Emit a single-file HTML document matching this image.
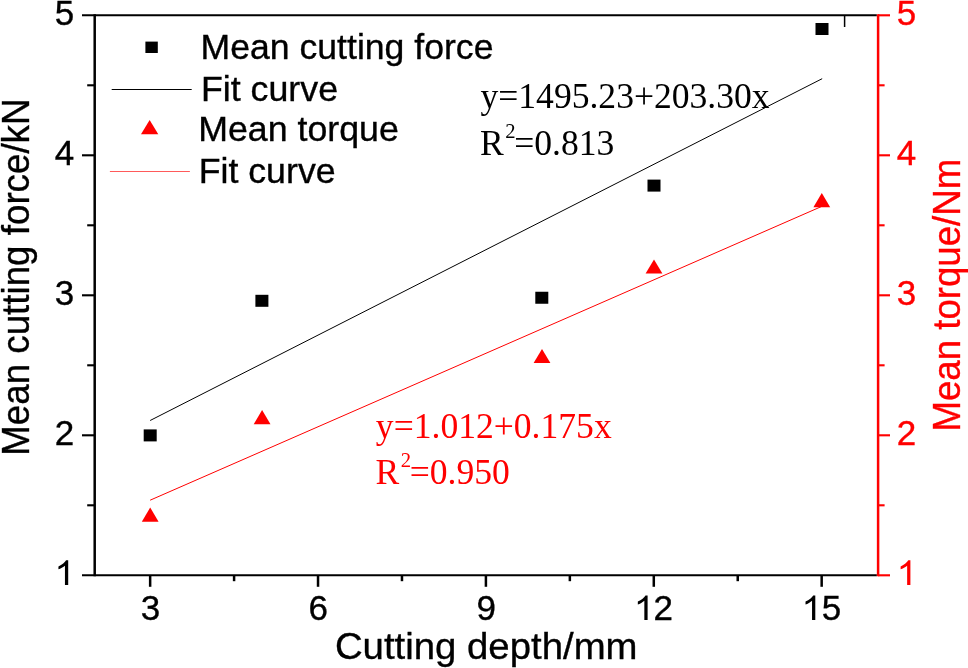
<!DOCTYPE html>
<html><head><meta charset="utf-8"><title>chart</title>
<style>html,body{margin:0;padding:0;background:#fff;}svg{display:block;will-change:transform;filter:opacity(1);}</style></head>
<body><svg width="968" height="668" viewBox="0 0 968 668">
<rect width="968" height="668" fill="#ffffff"/>
<line x1="94.70" y1="14.25" x2="94.70" y2="576.35" stroke="#000000" stroke-width="2.5"/>
<line x1="82.00" y1="575.30" x2="876.85" y2="575.30" stroke="#000000" stroke-width="2.1"/>
<line x1="82.00" y1="15.30" x2="876.85" y2="15.30" stroke="#000000" stroke-width="2.1"/>
<line x1="82.00" y1="435.30" x2="94.70" y2="435.30" stroke="#000000" stroke-width="2.1"/>
<line x1="82.00" y1="295.30" x2="94.70" y2="295.30" stroke="#000000" stroke-width="2.1"/>
<line x1="82.00" y1="155.30" x2="94.70" y2="155.30" stroke="#000000" stroke-width="2.1"/>
<line x1="87.20" y1="505.30" x2="94.70" y2="505.30" stroke="#000000" stroke-width="2.1"/>
<line x1="87.20" y1="365.30" x2="94.70" y2="365.30" stroke="#000000" stroke-width="2.1"/>
<line x1="87.20" y1="225.30" x2="94.70" y2="225.30" stroke="#000000" stroke-width="2.1"/>
<line x1="87.20" y1="85.30" x2="94.70" y2="85.30" stroke="#000000" stroke-width="2.1"/>
<line x1="150.15" y1="575.30" x2="150.15" y2="586.80" stroke="#000000" stroke-width="2.5"/>
<line x1="318.03" y1="575.30" x2="318.03" y2="586.80" stroke="#000000" stroke-width="2.5"/>
<line x1="485.91" y1="575.30" x2="485.91" y2="586.80" stroke="#000000" stroke-width="2.5"/>
<line x1="653.79" y1="575.30" x2="653.79" y2="586.80" stroke="#000000" stroke-width="2.5"/>
<line x1="821.67" y1="575.30" x2="821.67" y2="586.80" stroke="#000000" stroke-width="2.5"/>
<line x1="234.09" y1="575.30" x2="234.09" y2="581.20" stroke="#000000" stroke-width="2.5"/>
<line x1="401.97" y1="575.30" x2="401.97" y2="581.20" stroke="#000000" stroke-width="2.5"/>
<line x1="569.85" y1="575.30" x2="569.85" y2="581.20" stroke="#000000" stroke-width="2.5"/>
<line x1="737.73" y1="575.30" x2="737.73" y2="581.20" stroke="#000000" stroke-width="2.5"/>
<line x1="844.60" y1="15.30" x2="844.60" y2="27.00" stroke="#000000" stroke-width="1.5"/>
<line x1="878.10" y1="14.25" x2="878.10" y2="576.35" stroke="#ff0000" stroke-width="2.5"/>
<line x1="878.10" y1="575.30" x2="890.00" y2="575.30" stroke="#ff0000" stroke-width="2.1"/>
<line x1="878.10" y1="435.30" x2="890.00" y2="435.30" stroke="#ff0000" stroke-width="2.1"/>
<line x1="878.10" y1="295.30" x2="890.00" y2="295.30" stroke="#ff0000" stroke-width="2.1"/>
<line x1="878.10" y1="155.30" x2="890.00" y2="155.30" stroke="#ff0000" stroke-width="2.1"/>
<line x1="878.10" y1="15.30" x2="890.00" y2="15.30" stroke="#ff0000" stroke-width="2.1"/>
<line x1="878.10" y1="505.30" x2="884.60" y2="505.30" stroke="#ff0000" stroke-width="2.1"/>
<line x1="878.10" y1="365.30" x2="884.60" y2="365.30" stroke="#ff0000" stroke-width="2.1"/>
<line x1="878.10" y1="225.30" x2="884.60" y2="225.30" stroke="#ff0000" stroke-width="2.1"/>
<line x1="878.10" y1="85.30" x2="884.60" y2="85.30" stroke="#ff0000" stroke-width="2.1"/>
<line x1="150.15" y1="420.5" x2="822.17" y2="78.7" stroke="#000000" stroke-width="1"/>
<line x1="150.15" y1="500.2" x2="821.97" y2="206.3" stroke="#ff0000" stroke-width="1"/>
<line x1="111.7" y1="89.5" x2="191.7" y2="89.5" stroke="#000000" stroke-width="1"/>
<line x1="109.9" y1="171.5" x2="189.9" y2="171.5" stroke="#ff0000" stroke-width="0.65"/>
<rect x="143.70" y="429.40" width="13.0" height="12.0" fill="#000000"/>
<rect x="255.40" y="294.80" width="13.0" height="12.0" fill="#000000"/>
<rect x="535.30" y="291.75" width="13.0" height="12.0" fill="#000000"/>
<rect x="647.50" y="179.60" width="13.0" height="12.0" fill="#000000"/>
<rect x="815.50" y="23.00" width="13.0" height="12.0" fill="#000000"/>
<polygon points="150.20,507.50 158.60,521.70 141.80,521.70" fill="#ff0000"/>
<polygon points="262.10,410.00 270.50,424.20 253.70,424.20" fill="#ff0000"/>
<polygon points="542.00,348.90 550.40,363.10 533.60,363.10" fill="#ff0000"/>
<polygon points="654.00,259.40 662.40,273.60 645.60,273.60" fill="#ff0000"/>
<polygon points="821.80,193.00 830.20,207.20 813.40,207.20" fill="#ff0000"/>
<rect x="145.4" y="41.6" width="12.4" height="11.4" fill="#000000"/>
<polygon points="149.65,119.9 158.3,134.3 141.0,134.3" fill="#ff0000"/>
<text transform="translate(200.56,58.80) scale(1.0147,1)" font-family="Liberation Sans" font-size="35.10" fill="#000000" stroke="#000000" stroke-width="0.35">Mean cutting force</text>
<text transform="translate(200.95,100.80) scale(1.0190,1)" font-family="Liberation Sans" font-size="35.10" fill="#000000" stroke="#000000" stroke-width="0.35">Fit curve</text>
<text transform="translate(198.20,141.00) scale(1.0179,1)" font-family="Liberation Sans" font-size="35.10" fill="#000000" stroke="#000000" stroke-width="0.35">Mean torque</text>
<text transform="translate(198.65,182.50) scale(1.0182,1)" font-family="Liberation Sans" font-size="35.10" fill="#000000" stroke="#000000" stroke-width="0.35">Fit curve</text>
<text transform="translate(334.88,658.70) scale(1.0177,1)" font-family="Liberation Sans" font-size="37.70" fill="#000000" stroke="#000000" stroke-width="0.35">Cutting depth/mm</text>
<text transform="translate(29.10,455.83) rotate(-90) scale(0.9261,1)" font-family="Liberation Sans" font-size="39.68" fill="#000000" stroke="#000000" stroke-width="0.35">Mean cutting force/kN</text>
<text transform="translate(959.70,431.62) rotate(-90) scale(0.9306,1)" font-family="Liberation Sans" font-size="39.39" fill="#ff0000" stroke="#ff0000" stroke-width="0.35">Mean torque/Nm</text>
<text transform="translate(480.45,108.30)" font-family="Liberation Serif" font-size="35.60" fill="#000000">y=1495.23+203.30x</text>
<text transform="translate(480.03,155.20)" font-family="Liberation Serif" font-size="35.60" fill="#000000">R<tspan font-size="20.65" dy="-16.91" dx="1.6">2</tspan><tspan dy="16.91" dx="-1.5">=0.813</tspan></text>
<text transform="translate(375.86,437.70)" font-family="Liberation Serif" font-size="35.60" fill="#ff0000">y=1.012+0.175x</text>
<text transform="translate(375.48,484.30)" font-family="Liberation Serif" font-size="35.60" fill="#ff0000">R<tspan font-size="20.65" dy="-16.91" dx="1.6">2</tspan><tspan dy="16.91" dx="-1.5">=0.950</tspan></text>
<text transform="translate(74.30,445.20) scale(0.98,1)" text-anchor="end" font-family="Liberation Sans" font-size="35.7" fill="#000000" stroke="#000000" stroke-width="0.35">2</text>
<text transform="translate(896.80,445.20) scale(0.98,1)" text-anchor="start" font-family="Liberation Sans" font-size="35.7" fill="#ff0000" stroke="#ff0000" stroke-width="0.35">2</text>
<text transform="translate(74.30,305.20) scale(0.98,1)" text-anchor="end" font-family="Liberation Sans" font-size="35.7" fill="#000000" stroke="#000000" stroke-width="0.35">3</text>
<text transform="translate(896.80,305.20) scale(0.98,1)" text-anchor="start" font-family="Liberation Sans" font-size="35.7" fill="#ff0000" stroke="#ff0000" stroke-width="0.35">3</text>
<text transform="translate(74.30,165.20) scale(0.98,1)" text-anchor="end" font-family="Liberation Sans" font-size="35.7" fill="#000000" stroke="#000000" stroke-width="0.35">4</text>
<text transform="translate(896.80,165.20) scale(0.98,1)" text-anchor="start" font-family="Liberation Sans" font-size="35.7" fill="#ff0000" stroke="#ff0000" stroke-width="0.35">4</text>
<text transform="translate(74.30,25.20) scale(0.98,1)" text-anchor="end" font-family="Liberation Sans" font-size="35.7" fill="#000000" stroke="#000000" stroke-width="0.35">5</text>
<text transform="translate(896.80,25.20) scale(0.98,1)" text-anchor="start" font-family="Liberation Sans" font-size="35.7" fill="#ff0000" stroke="#ff0000" stroke-width="0.35">5</text>
<path d="M763 0H583V1147Q518 1085 412.5 1023Q307 961 223 930V1104Q374 1175 487 1276Q600 1377 647 1472H763Z" transform="translate(54.39,584.90) scale(0.0181,-0.01671)" fill="#000000"/>
<path d="M763 0H583V1147Q518 1085 412.5 1023Q307 961 223 930V1104Q374 1175 487 1276Q600 1377 647 1472H763Z" transform="translate(896.59,584.90) scale(0.0181,-0.01671)" fill="#ff0000"/>
<text transform="translate(150.45,620.00) scale(0.98,1)" text-anchor="middle" font-family="Liberation Sans" font-size="35.7" fill="#000000" stroke="#000000" stroke-width="0.35">3</text>
<text transform="translate(318.33,620.00) scale(0.98,1)" text-anchor="middle" font-family="Liberation Sans" font-size="35.7" fill="#000000" stroke="#000000" stroke-width="0.35">6</text>
<text transform="translate(486.21,620.00) scale(0.98,1)" text-anchor="middle" font-family="Liberation Sans" font-size="35.7" fill="#000000" stroke="#000000" stroke-width="0.35">9</text>
<path d="M763 0H583V1147Q518 1085 412.5 1023Q307 961 223 930V1104Q374 1175 487 1276Q600 1377 647 1472H763Z" transform="translate(633.79,620.00) scale(0.0181,-0.01671)" fill="#000000"/>
<text transform="translate(653.50,620.00) scale(0.98,1)" text-anchor="start" font-family="Liberation Sans" font-size="35.7" fill="#000000" stroke="#000000" stroke-width="0.35">2</text>
<path d="M763 0H583V1147Q518 1085 412.5 1023Q307 961 223 930V1104Q374 1175 487 1276Q600 1377 647 1472H763Z" transform="translate(801.49,620.00) scale(0.0181,-0.01671)" fill="#000000"/>
<text transform="translate(821.70,620.00) scale(0.98,1)" text-anchor="start" font-family="Liberation Sans" font-size="35.7" fill="#000000" stroke="#000000" stroke-width="0.35">5</text>
</svg></body></html>
